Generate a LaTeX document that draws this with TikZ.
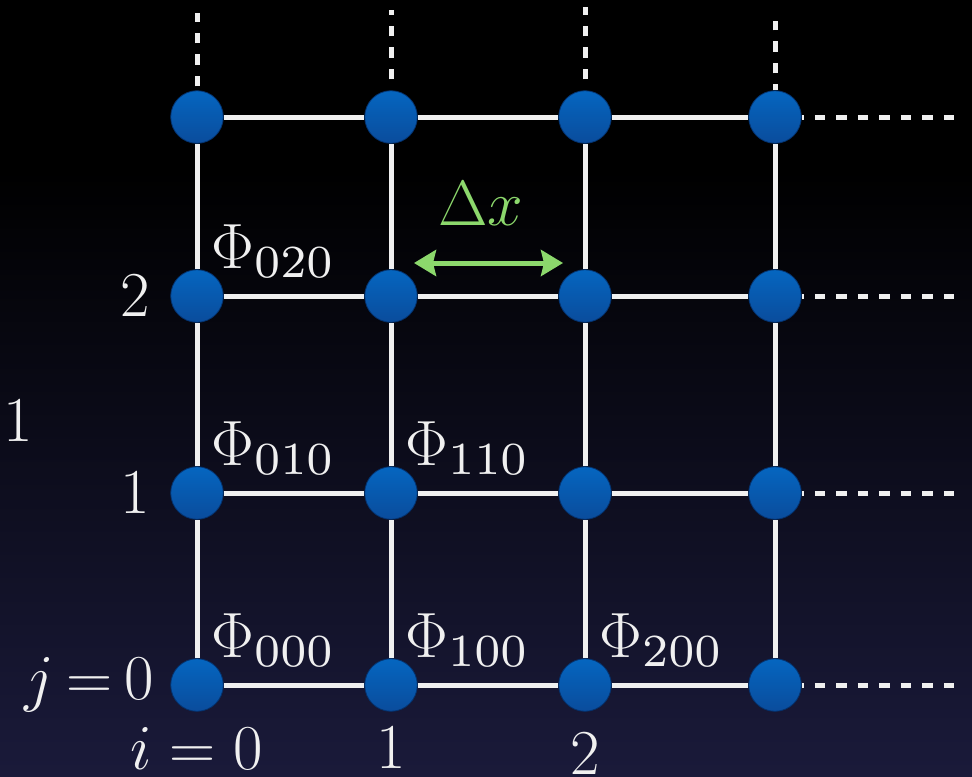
\documentclass[tikz,border=0pt]{standalone}
\usepackage{fix-cm}
\usepackage{xcolor}
\usepackage{tikz}
\usetikzlibrary{arrows.meta, calc, backgrounds}
\definecolor{bgnavy}{RGB}{26,26,58}
\definecolor{dottop}{RGB}{5,102,192}
\definecolor{dotbottom}{RGB}{10,76,156}
\definecolor{dotrim}{RGB}{4,50,110}
\definecolor{linewhite}{RGB}{240,240,240}
\definecolor{deltagreen}{RGB}{140,216,108}
\DeclareFontFamily{OT1}{cmrsub}{\hyphenchar\font=-1}
\DeclareFontShape{OT1}{cmrsub}{m}{n}{<->cmr7}{}
\newcommand{\idx}[1]{\hbox{\fontsize{23}{26}\usefont{OT1}{cmrsub}{m}{n}#1}}

\begin{document}
\begin{tikzpicture}[x=0.5pt, y=-0.5pt, font=\fontsize{32}{38}\selectfont, >=Stealth]
    \tikzstyle{gridpt} = [circle, minimum size=26.3pt, inner sep=0pt, top color=dottop, bottom color=dotbottom, draw=dotrim, line width=0.4pt]
    \tikzstyle{gridline} = [draw=linewhite, line width=2.5pt]
    \tikzstyle{dashline} = [draw=linewhite, line width=2.5pt, dash pattern=on 5.25pt off 5.5pt]
    \tikzstyle{phi} = [anchor=base west, inner sep=0pt, text=linewhite]
    \tikzstyle{axislab} = [inner sep=0pt, text=linewhite]

    \useasboundingbox (0,0) rectangle (972,776);

    % grid points, column i and row j
    \foreach \i/\x in {0/197,1/391,2/585,3/775}
        \foreach \j/\y in {0/685,1/493,2/296,3/117}
            \node (n\i\j) [gridpt] at (\x,\y) {};

    % free ends of the dashed lines
    \coordinate (t0) at (197,13);
    \coordinate (t1) at (391,10);
    \coordinate (t2) at (585,7);
    \coordinate (t3) at (775,21);
    \foreach \j/\y in {0/685,1/493,2/296,3/117}
        \coordinate (r\j) at (955,\y);

    % field values
    \node (p000) [phi] at ($(n00)+(14,-28)$) {$\Phi_{\idx{000}}$};
    \node (p100) [phi] at ($(n10)+(14,-28)$) {$\Phi_{\idx{100}}$};
    \node (p200) [phi] at ($(n20)+(14,-28)$) {$\Phi_{\idx{200}}$};
    \node (p010) [phi] at ($(n01)+(14,-28)$) {$\Phi_{\idx{010}}$};
    \node (p110) [phi] at ($(n11)+(14,-28)$) {$\Phi_{\idx{110}}$};
    \node (p020) [phi] at ($(n02)+(14,-28)$) {$\Phi_{\idx{020}}$};

    % indices
    \node (jz) [axislab, anchor=east] at ($(n00.west)+(-16,0)$) {$j\mkern-1.5mu=\mkern-1.5mu0$};
    \node (j1) [axislab, anchor=east] at ($(n01.west)+(-20,0)$) {$1$};
    \node (j2) [axislab, anchor=east] at ($(n02.west)+(-20,0)$) {$2$};
    \node (iz) [axislab, anchor=base] at ($(n00)+(0,84)$) {$i=0$};
    \node (i1) [axislab, anchor=base] at ($(n10)+(0,83)$) {$1$};
    \node (i2) [axislab, anchor=base] at ($(n20)+(0,89)$) {$2$};
    \node (k1) [axislab] at (18,421) {$1$};

    % grid spacing
    \node (dx) [inner sep=0pt, text=deltagreen, anchor=base] at (481,225) {$\Delta x$};
    \coordinate (dxl) at (414,263);
    \coordinate (dxr) at (563,263);
    \draw [{Stealth[length=11pt, width=13pt, inset=1.5pt]}-{Stealth[length=11pt, width=13pt, inset=1.5pt]}, deltagreen, line width=2.5pt] (dxl) -- (dxr);

    \begin{scope}[on background layer]
        \fill [black] (0,0) rectangle (972,776);
        \shade [top color=black, bottom color=bgnavy] (0,170) rectangle (972,776);
        \foreach \j in {0,...,3}
            \draw [gridline] (n0\j) -- (n1\j) -- (n2\j) -- (n3\j);
        \foreach \i in {0,...,3}
            \draw [gridline] (n\i0) -- (n\i1) -- (n\i2) -- (n\i3);
        % dashed continuations
        \draw [dashline, dash phase=8.75pt] (n03) -- (t0);
        \draw [dashline, dash phase=5.25pt] (n13) -- (t1);
        \draw [dashline, dash phase=5.25pt] (n23) -- (t2);
        \draw [dashline, dash phase=2.25pt] (n33) -- (t3);
        \foreach \j in {0,...,3}
            \draw [dashline, dash phase=4.2pt] (n3\j) -- (r\j);
    \end{scope}
\end{tikzpicture}
\end{document}
